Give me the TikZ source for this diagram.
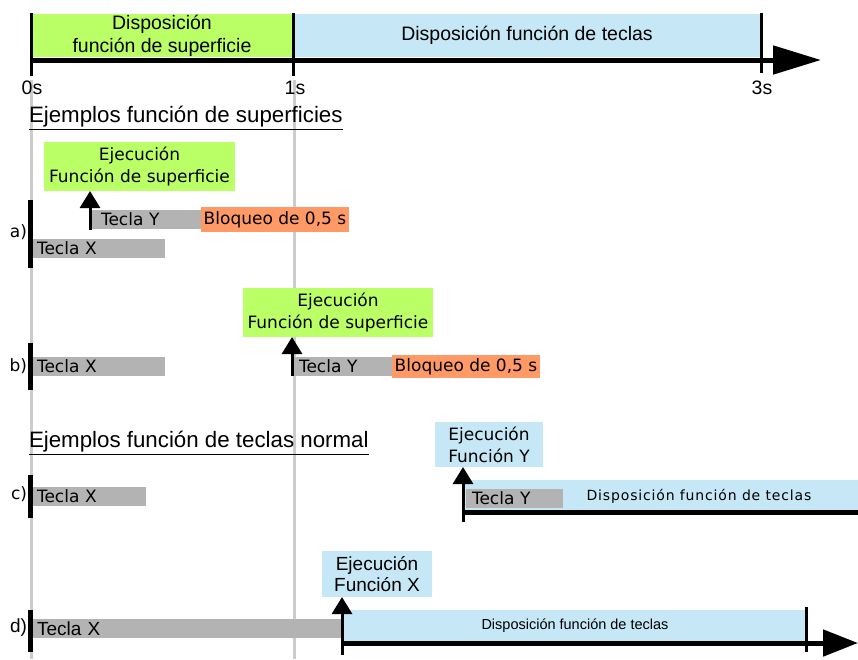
\documentclass[tikz,border=0pt]{standalone}
\usepackage{fontspec}
\setmainfont{Liberation Sans}
\newfontfamily\roundfont{DejaVu Sans}
\usepackage{xcolor}
\usetikzlibrary{arrows.meta, positioning}
\definecolor{surfgreen}{HTML}{BBFF66}
\definecolor{keyblue}{HTML}{C6E7F5}
\definecolor{lockorange}{HTML}{FF9966}
\definecolor{barcolor}{HTML}{B3B3B3}
\definecolor{gridgray}{HTML}{CCCCCC}

\begin{document}
\begin{tikzpicture}[
    x=1pt, y=-1pt,
    every node/.style={inner sep=0pt, outer sep=0pt, align=center},
    topfont/.style={font=\fontsize{19.5}{23}\selectfont},
    lowfont/.style={font=\roundfont\fontsize{17}{22}\selectfont},
    narrowfont/.style={font=\fontsize{19}{21}\selectfont},
    phase/.style={anchor=north west, minimum height=43pt, topfont},
    execbox/.style={anchor=north west, lowfont},
    keybar/.style={fill=barcolor, anchor=north west, minimum height=19pt, align=left, lowfont},
    lockbox/.style={fill=lockorange, anchor=north west, lowfont},
    marker/.style={line width=5pt},
    tick/.style={line width=3pt},
    push/.style={line width=3pt, -{Triangle[length=17pt, width=20pt]}},
    grid/.style={gridgray, line width=3pt}
  ]
  \useasboundingbox (0,0) rectangle (858,659);

  % time grid
  \draw[grid] (31,80) -- (31,659);
  \draw[grid] (294,80) -- (294,659);

  % time line
  \node[phase, fill=surfgreen, minimum width=262pt] (dispsurf) at (31,14) {Disposición\\función de superficie};
  \node[phase, fill=keyblue, minimum width=468pt, right=0pt of dispsurf] (dispkeys) {Disposición función de teclas};
  \coordinate (t0) at (31,60);
  \coordinate (tend) at (821,60);
  \draw[line width=5pt, -{Triangle[length=48pt, width=28pt]}] (t0) -- (tend);
  \draw[tick] (31,13) -- (31,76);
  \draw[tick] (293,13) -- (293,76);
  \draw[tick] (761,13) -- (761,73);
  \node[topfont] (s0) at (32,88) {0s};
  \node[topfont] (s1) at (295,88) {1s};
  \node[topfont] (s3) at (762,88) {3s};

  \node[font=\fontsize{22.3}{26}\selectfont, anchor=west] (titsurf) at (29,118) {\underline{Ejemplos función de superficies}};

  % a)
  \draw[marker] (30,200) -- (30,268);
  \node[lowfont, anchor=east] (la) at (27,232) {a)};
  \node[execbox, fill=surfgreen, minimum width=191pt, minimum height=49pt] (execa) at (44,142) {Ejecución\\Función de superficie};
  \node[keybar, text width=91pt, inner xsep=9pt] (tya) at (92,210) {Tecla Y};
  \node[lockbox, minimum width=148pt, minimum height=25pt] (locka) at (201,207) {Bloqueo de 0,5 s};
  \node[keybar, text width=124pt, inner xsep=4pt] (txa) at (33,239) {Tecla X};
  \coordinate (pusha) at (90,230);
  \draw[push] (pusha) -- (pusha |- execa.south);

  % b)
  \draw[marker] (30,343) -- (30,390);
  \node[lowfont, anchor=east] (lb) at (27,366) {b)};
  \node[keybar, text width=124pt, inner xsep=4pt] (txb) at (33,357) {Tecla X};
  \node[execbox, fill=surfgreen, minimum width=190pt, minimum height=49pt] (execb) at (243,288) {Ejecución\\Función de superficie};
  \node[keybar, text width=87pt, inner xsep=6pt] (tyb) at (293,357) {Tecla Y};
  \node[lockbox, minimum width=148pt, minimum height=23pt] (lockb) at (392,355) {Bloqueo de 0,5 s};
  \coordinate (pushb) at (292,376);
  \draw[push] (pushb) -- (pushb |- execb.south);

  \node[font=\fontsize{22.3}{26}\selectfont, anchor=west] (titkeys) at (29,443) {\underline{Ejemplos función de teclas normal}};

  % c)
  \draw[marker] (30,475) -- (30,518);
  \node[lowfont, anchor=east] (lc) at (27,494) {c)};
  \node[keybar, text width=105pt, inner xsep=4pt] (txc) at (33,487) {Tecla X};
  \node[execbox, fill=keyblue, minimum width=108pt, minimum height=45pt] (execc) at (435,422) {Ejecución\\Función Y};
  \node[fill=keyblue, anchor=north west, minimum width=395pt, minimum height=32pt] (dispc) at (463,480) {};
  \node[font=\roundfont\fontsize{14}{16}\selectfont\addfontfeature{LetterSpace=6}] (dispctext) at (699,496) {Disposición función de teclas};
  \node[keybar, text width=85pt, inner xsep=6pt] (tyc) at (466,489) {Tecla Y};
  \draw[line width=5pt] (dispc.south west) -- (dispc.south east);
  \draw[tick] (463,480) -- (463,522);
  \coordinate (pushc) at (463,515);
  \draw[push] (pushc) -- (pushc |- execc.south);

  % d)
  \draw[marker] (30,610) -- (30,652);
  \node[narrowfont, anchor=east] (ld) at (27,628) {d)};
  \node[keybar, text width=301pt, inner xsep=4pt, narrowfont] (txd) at (33,619) {Tecla X};
  \node[execbox, narrowfont, fill=keyblue, minimum width=110pt, minimum height=46pt] (execd) at (322,551) {Ejecución\\Función X};
  \node[fill=keyblue, anchor=north west, minimum width=466pt, minimum height=32pt, font=\fontsize{14.5}{16}\selectfont] (dispd) at (342,610) {Disposición función de teclas};
  \coordinate (d0) at (342,643);
  \coordinate (dend) at (858,643);
  \draw[line width=5pt, -{Triangle[length=35pt, width=26pt]}] (d0) -- (dend);
  \draw[tick] (806,607) -- (806,652);
  \draw[tick] (342,610) -- (342,655);
  \coordinate (pushd) at (342,650);
  \draw[push] (pushd) -- (pushd |- execd.south);
\end{tikzpicture}
\end{document}
